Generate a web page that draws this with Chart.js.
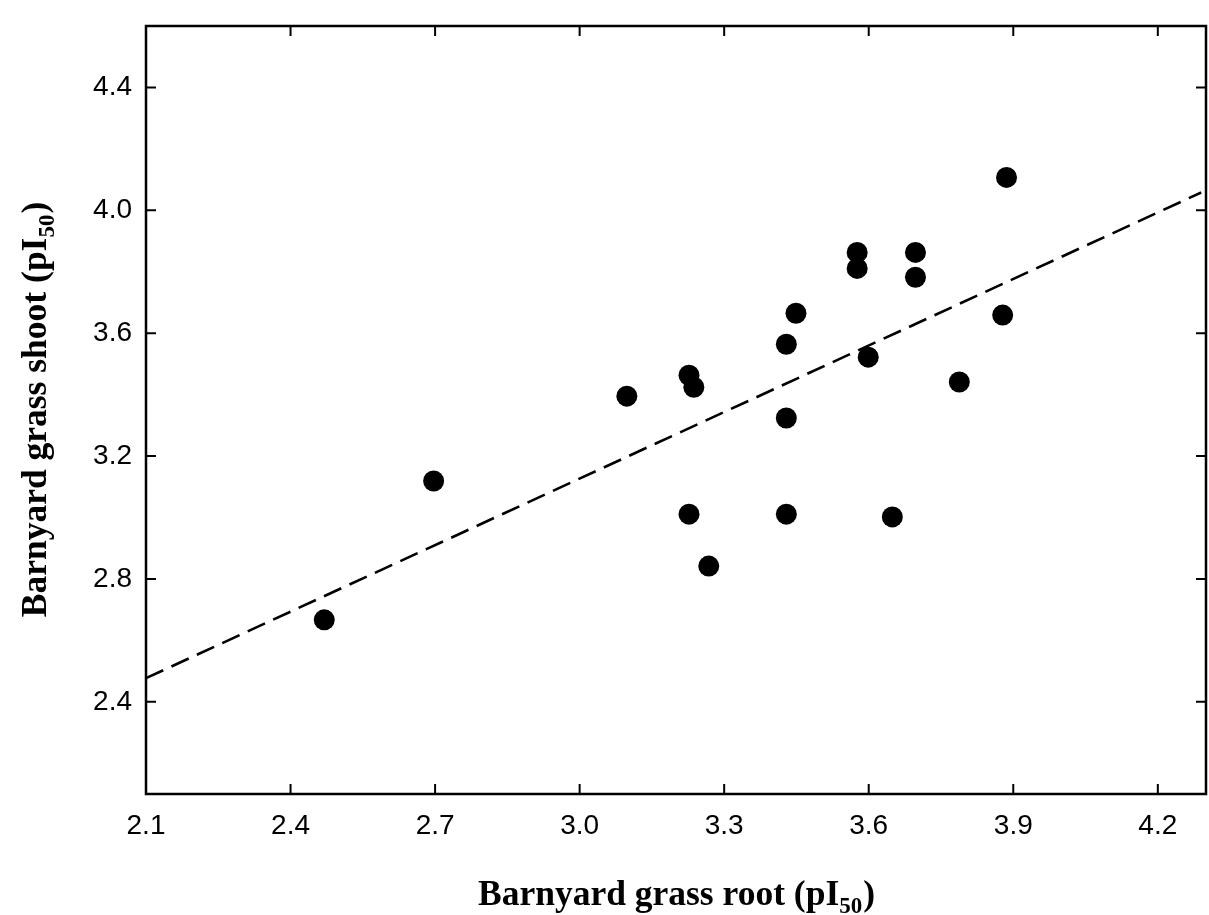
<!DOCTYPE html>
<html>
<head>
<meta charset="utf-8">
<script src="https://cdn.jsdelivr.net/npm/chart.js@4.4.1/dist/chart.umd.min.js"></script>
<style>
html,body{margin:0;padding:0;background:#fff;}
canvas{display:block;}
</style>
</head>
<body>
<canvas id="c" width="1209" height="915"></canvas>
<script>
// ---- data ----
const rootPI50 = [2.470, 2.697, 3.098, 3.227, 3.237, 3.227, 3.268, 3.429, 3.449, 3.429,
                  3.429, 3.576, 3.576, 3.599, 3.649, 3.697, 3.697, 3.788, 3.878, 3.886];
const shootPI50 = [2.667, 3.119, 3.395, 3.463, 3.424, 3.011, 2.842, 3.564, 3.665, 3.324,
                   3.011, 3.863, 3.811, 3.522, 3.002, 3.863, 3.782, 3.441, 3.659, 4.107];
const fitX = [2.1, 4.29];
const fitY = [2.477, 4.058];
const xTickValues = [2.1, 2.4, 2.7, 3.0, 3.3, 3.6, 3.9, 4.2];
const yTickValues = [2.4, 2.8, 3.2, 3.6, 4.0, 4.4];
const xTitle = ["Barnyard grass root (pI", "50", ")"];
const yTitle = ["Barnyard grass shoot (pI", "50", ")"];

const points = rootPI50.map((x, i) => ({x: x, y: shootPI50[i]}));
const fitLine = fitX.map((x, i) => ({x: x, y: fitY[i]}));

function drawTitle(ctx, parts, cx, cy, rotate) {
  const big = 'bold 35.5px "Liberation Serif", "Times New Roman", serif';
  const small = 'bold 23px "Liberation Serif", "Times New Roman", serif';
  ctx.save();
  ctx.translate(cx, cy);
  if (rotate) ctx.rotate(-Math.PI / 2);
  ctx.fillStyle = '#000';
  ctx.textBaseline = 'alphabetic';
  ctx.textAlign = 'left';
  ctx.font = big; const w0 = ctx.measureText(parts[0]).width;
  ctx.font = small; const w1 = ctx.measureText(parts[1]).width;
  ctx.font = big; const w2 = ctx.measureText(parts[2]).width;
  const total = w0 + w1 + w2;
  let x = -total / 2;
  const base = 11;
  ctx.font = big; ctx.fillText(parts[0], x, base); x += w0;
  ctx.font = small; ctx.fillText(parts[1], x, base + 8); x += w1 + 1;
  ctx.font = big; ctx.fillText(parts[2], x, base);
  ctx.restore();
}

const framePlugin = {
  id: 'frame',
  afterDraw(chart) {
    const ctx = chart.ctx;
    const a = chart.chartArea;
    const xs = chart.scales.x, ys = chart.scales.y;
    ctx.save();
    ctx.strokeStyle = '#000';
    ctx.lineWidth = 2.5;
    ctx.strokeRect(a.left, a.top, a.right - a.left, a.bottom - a.top);
    ctx.lineWidth = 2;
    const tl = 10;
    ctx.beginPath();
    xs.ticks.forEach(t => {
      const px = xs.getPixelForValue(t.value);
      ctx.moveTo(px, a.bottom); ctx.lineTo(px, a.bottom - tl);
      ctx.moveTo(px, a.top); ctx.lineTo(px, a.top + tl);
    });
    ys.ticks.forEach(t => {
      const py = ys.getPixelForValue(t.value);
      ctx.moveTo(a.left, py); ctx.lineTo(a.left + tl, py);
      ctx.moveTo(a.right, py); ctx.lineTo(a.right - tl, py);
    });
    ctx.stroke();
    ctx.restore();
    drawTitle(ctx, xTitle, (a.left + a.right) / 2, 894, false);
    drawTitle(ctx, yTitle, 35, (a.top + a.bottom) / 2, true);
  }
};

const tickFont = {family: '"Liberation Sans", Arial, sans-serif', size: 28};

function noPad(s) {
  s.paddingTop = 0; s.paddingBottom = 0; s.paddingLeft = 0; s.paddingRight = 0;
}

new Chart(document.getElementById('c'), {
  type: 'scatter',
  data: {
    datasets: [
      {
        type: 'line',
        data: fitLine,
        borderColor: '#000',
        borderWidth: 2.6,
        borderDash: [19, 9],
        pointRadius: 0,
        fill: false,
        tension: 0
      },
      {
        data: points,
        backgroundColor: '#000',
        borderWidth: 0,
        pointRadius: 10.5,
        pointHoverRadius: 10.5
      }
    ]
  },
  options: {
    responsive: false,
    animation: false,
    events: [],
    layout: {autoPadding: false, padding: {left: 0, top: 26, right: 3, bottom: 0}},
    plugins: {legend: {display: false}, tooltip: {enabled: false}},
    scales: {
      x: {
        type: 'linear',
        min: 2.1, max: 4.3,
        grid: {display: false, drawTicks: false, tickLength: 0},
        border: {display: false},
        afterBuildTicks: s => { s.ticks = xTickValues.map(v => ({value: v})); },
        afterFit: s => { s.height = 121; noPad(s); },
        ticks: {
          color: '#000', font: tickFont, padding: 15, maxRotation: 0, autoSkip: false,
          callback: v => Number(v).toFixed(1)
        }
      },
      y: {
        type: 'linear',
        min: 2.1, max: 4.6,
        grid: {display: false, drawTicks: false, tickLength: 0},
        border: {display: false},
        afterBuildTicks: s => { s.ticks = yTickValues.map(v => ({value: v})); },
        afterFit: s => { s.width = 146; noPad(s); },
        ticks: {
          color: '#000', font: tickFont, padding: 14, autoSkip: false,
          callback: v => Number(v).toFixed(1)
        }
      }
    }
  },
  plugins: [framePlugin]
});
</script>
</body>
</html>
